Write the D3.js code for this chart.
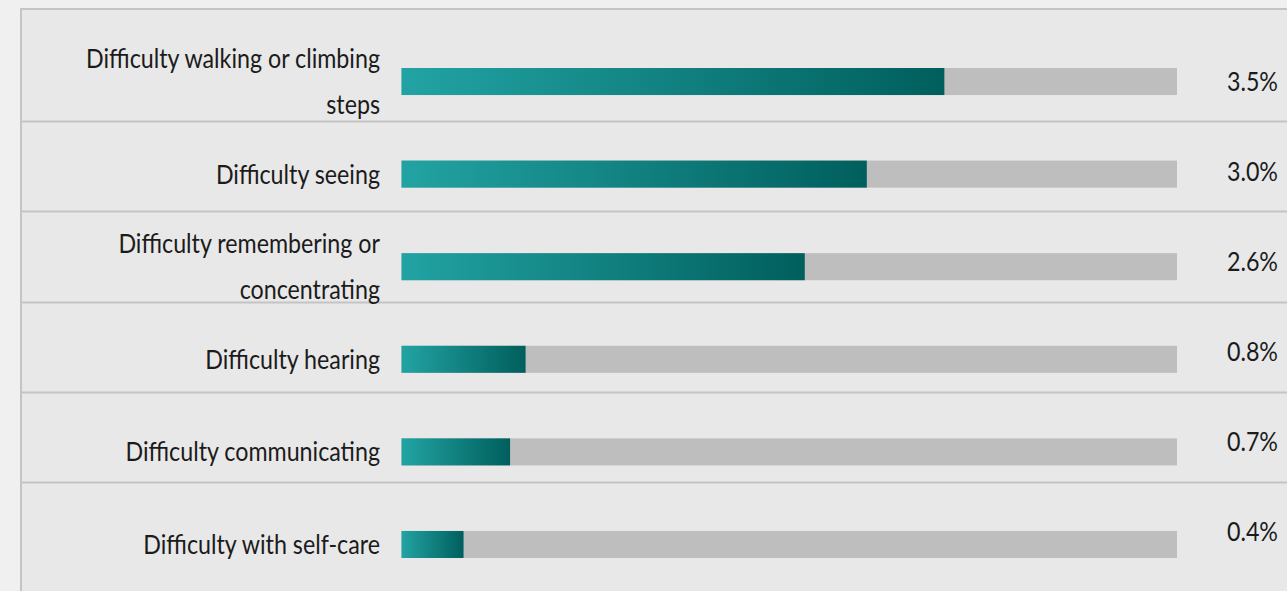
<!DOCTYPE html>
<html>
<head>
<meta charset="utf-8">
<script src="https://cdn.jsdelivr.net/npm/d3@7"></script>
<style>
  html, body { margin: 0; padding: 0; background: #f0f0f0; }
  svg { display: block; }
  text { font-family: "Lato", "Open Sans", sans-serif; fill: #1b1b1b; }
</style>
</head>
<body>
<svg id="chart" width="1287" height="591"></svg>
<script>
// Share of people reporting each type of difficulty (%)
const categories = [
  "Difficulty walking or climbing steps",
  "Difficulty seeing",
  "Difficulty remembering or concentrating",
  "Difficulty hearing",
  "Difficulty communicating",
  "Difficulty with self-care"
];
// Wrapped label lines per category
const labelLines = [
  ["Difficulty walking or climbing", "steps"],
  ["Difficulty seeing"],
  ["Difficulty remembering or", "concentrating"],
  ["Difficulty hearing"],
  ["Difficulty communicating"],
  ["Difficulty with self-care"]
];
const values = [3.5, 3.0, 2.6, 0.8, 0.7, 0.4];
const valueLabels = ["3.5%", "3.0%", "2.6%", "0.8%", "0.7%", "0.4%"];
const scaleMax = 5;

const W = 1287, H = 591;
const svg = d3.select("#chart");

// panel background with left and top rule
svg.append("rect").attr("x", 21).attr("y", 9).attr("width", W - 21).attr("height", H - 9).attr("fill", "#e8e8e8");
svg.append("line").attr("x1", 21).attr("x2", 21).attr("y1", 8).attr("y2", H)
  .attr("stroke", "#c4c4c4").attr("stroke-width", 2);
svg.append("line").attr("x1", 20).attr("x2", W).attr("y1", 9).attr("y2", 9)
  .attr("stroke", "#c4c4c4").attr("stroke-width", 2);

// table rows (separators + value column) and bar positions
const rowY = d3.scaleBand().domain(categories).range([31, 572]);
const barY = d3.scaleBand().domain(categories).range([68, 558]).paddingInner(0.708).paddingOuter(0);
const x = d3.scaleLinear().domain([0, scaleMax]).range([401.5, 1177]);
const barH = barY.bandwidth();

// gradient fill for the bars
const defs = svg.append("defs");
const grad = defs.append("linearGradient").attr("id", "barGrad")
  .attr("x1", "0%").attr("x2", "100%").attr("y1", "0%").attr("y2", "0%");
grad.append("stop").attr("offset", "0%").attr("stop-color", "#22a3a3");
grad.append("stop").attr("offset", "100%").attr("stop-color", "#005f5d");

// row separators
svg.append("g").selectAll("line")
  .data(categories.slice(1))
  .join("line")
  .attr("x1", 22).attr("x2", W)
  .attr("y1", d => Math.round(rowY(d)) + 0.5)
  .attr("y2", d => Math.round(rowY(d)) + 0.5)
  .attr("stroke", "#c4c4c4").attr("stroke-width", 2);

const rows = svg.append("g").selectAll("g")
  .data(categories.map((c, i) => ({ c, i, v: values[i] })))
  .join("g");

// background track
rows.append("rect")
  .attr("x", x(0)).attr("width", x(scaleMax) - x(0))
  .attr("y", d => barY(d.c)).attr("height", barH)
  .attr("fill", "#bdbebd");

// value bar
rows.append("rect")
  .attr("x", x(0)).attr("width", d => x(d.v) - x(0))
  .attr("y", d => barY(d.c)).attr("height", barH)
  .attr("fill", "url(#barGrad)");

// horizontal condensing factor for the narrow typeface look
const fontSize = 27;
const probe = svg.append("text").attr("font-size", fontSize).text(labelLines[0][0]);
const squeeze = 294 / probe.node().getComputedTextLength();
probe.remove();

// category labels, right aligned before the bars
const lineGap = 46;
rows.append("text")
  .attr("text-anchor", "end")
  .attr("font-size", fontSize)
  .attr("transform", `translate(380,0) scale(${squeeze},1)`)
  .each(function (d) {
    const lines = labelLines[d.i];
    const cy = barY(d.c) + barH / 2;
    const t = d3.select(this);
    lines.forEach((ln, k) => {
      t.append("tspan")
        .attr("x", 0)
        .attr("y", cy + (k - (lines.length - 1) / 2) * lineGap)
        .attr("dy", "0.35em")
        .text(ln);
    });
  });

// value labels
rows.append("text")
  .attr("text-anchor", "end")
  .attr("font-size", fontSize)
  .attr("transform", `translate(1278,0) scale(${squeeze},1)`)
  .attr("x", 0)
  .attr("y", d => rowY(d.c) + rowY.bandwidth() / 2 + 5)
  .attr("dy", "0.35em")
  .text(d => valueLabels[d.i]);
</script>
</body>
</html>
